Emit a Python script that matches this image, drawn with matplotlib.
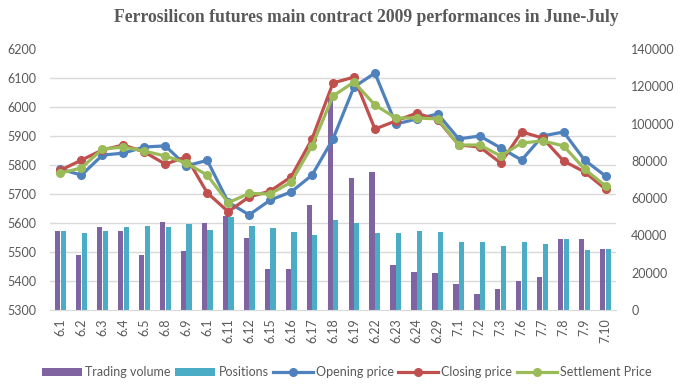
import matplotlib.pyplot as plt
import numpy as np

dates = ["6.1", "6.2", "6.3", "6.4", "6.5", "6.8", "6.9", "6.1", "6.11", "6.12",
         "6.15", "6.16", "6.17", "6.18", "6.19", "6.22", "6.23", "6.24", "6.29",
         "7.1", "7.2", "7.3", "7.6", "7.7", "7.8", "7.9", "7.10"]

volume = [42500, 29500, 44500, 42400, 29500, 47200, 31600, 46700, 50400, 38600,
          22000, 22000, 56300, 115000, 70800, 74000, 24100, 20400, 19800,
          13900, 8600, 11300, 15600, 17700, 38100, 38100, 32700]
positions = [42400, 41300, 42400, 44500, 45000, 44500, 46100, 42900, 49900, 45000,
             44000, 41800, 40200, 48300, 46700, 41300, 41300, 42400, 41800,
             36500, 36500, 34300, 36500, 35400, 38100, 32200, 32700]

opening = [5786, 5765, 5834, 5841, 5862, 5866, 5797, 5816, 5672, 5628,
           5679, 5707, 5765, 5890, 6069, 6117, 5941, 5959, 5976,
           5890, 5900, 5859, 5817, 5900, 5914, 5817, 5762]
closing = [5782, 5817, 5852, 5869, 5845, 5803, 5828, 5704, 5639, 5690,
           5710, 5759, 5890, 6083, 6103, 5924, 5952, 5979, 5955,
           5869, 5862, 5807, 5914, 5893, 5814, 5776, 5717]
settlement = [5772, 5790, 5855, 5862, 5848, 5831, 5807, 5765, 5670, 5702,
              5700, 5741, 5866, 6038, 6086, 6007, 5962, 5962, 5959,
              5869, 5869, 5831, 5876, 5883, 5866, 5786, 5728]

price_ticks = list(range(5300, 6201, 100))
vol_ticks = list(range(0, 140001, 20000))

grey = "#595959"
plt.rcParams['font.family'] = ['Lato', 'DejaVu Sans']

fig = plt.figure(figsize=(6.83, 3.86), dpi=100)
ax = fig.add_axes([50 / 683, 1 - 310 / 386, 566 / 683, 261 / 386])
x = np.arange(len(dates))

# bars on the volume axis (drawn underneath)
b1 = ax.bar(x - 0.135, volume, width=0.25, color="#8064A2", label="Trading volume", zorder=2)
b2 = ax.bar(x + 0.135, positions, width=0.25, color="#4BACC6", label="Positions", zorder=2)
ax.set_ylim(0, 140000)
ax.set_xlim(-0.5, len(dates) - 0.5)
ax.set_yticks(vol_ticks)
# gridlines at the price ticks
ax.set_yticks([(p - 5300) / 900 * 140000 for p in price_ticks], minor=True)
ax.grid(which="minor", axis="y", color="#d9d9d9", linewidth=1, zorder=0)
ax.set_xticks(x)
ax.set_xticklabels(dates, rotation=90, fontsize=9, color=grey)
ax.tick_params(axis="x", length=0, pad=6)
for s in ["top", "right", "left"]:
    ax.spines[s].set_visible(False)
ax.spines["bottom"].set_color("#d9d9d9")
ax.set_axisbelow(True)

ax2 = ax.twinx()
l1, = ax2.plot(x, opening, color="#4F81BD", lw=2.3, marker="o", ms=5.5, label="Opening price")
l2, = ax2.plot(x, closing, color="#C0504D", lw=2.3, marker="o", ms=5.5, label="Closing price")
l3, = ax2.plot(x, settlement, color="#9BBB59", lw=2.3, marker="o", ms=5.5, label="Settlement Price")
ax2.set_ylim(5300, 6200)
ax2.set_yticks(price_ticks)
ax2.yaxis.tick_left()
ax2.tick_params(axis="y", length=0, colors=grey, labelsize=9, pad=10)
for s in ax2.spines.values():
    s.set_visible(False)

# volume ticks on the right (after twinx, which resets the side)
ax.yaxis.tick_right()
ax.tick_params(axis="y", which="both", length=0, colors=grey, labelsize=9, pad=11)

fig.text(0.536, 0.955, "Ferrosilicon futures main contract 2009 performances in June-July",
         ha="center", va="center", fontsize=12.7, fontweight="bold",
         family="Liberation Serif", color=grey)

fig.legend(handles=[b1, b2, l1, l2, l3], loc="center", bbox_to_anchor=(0.508, 0.035),
           ncol=5, frameon=False, fontsize=9, labelcolor=grey,
           handlelength=3.2, handletextpad=0.25, columnspacing=0.35)

fig.savefig("out.png", dpi=100)
